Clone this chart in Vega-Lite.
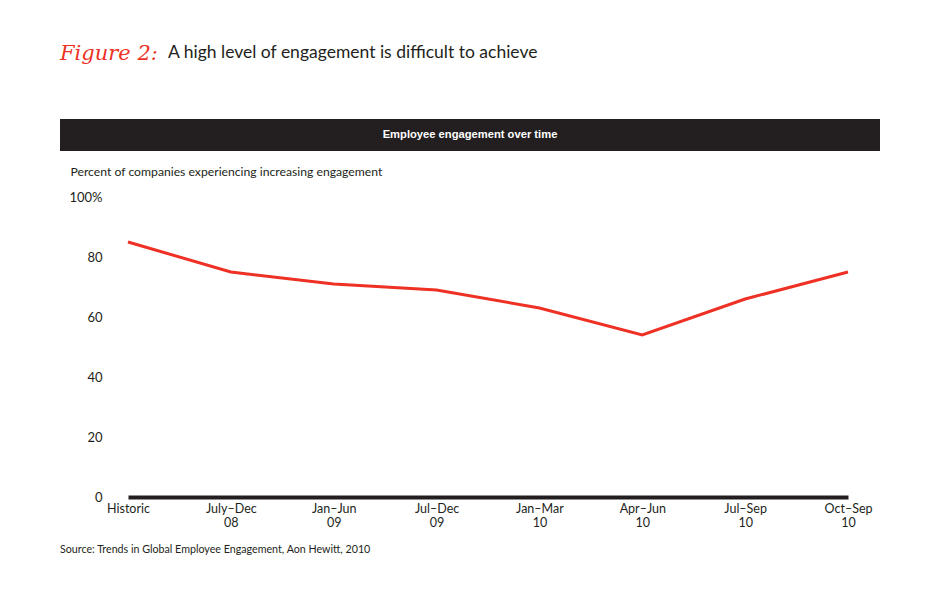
{
  "$schema": "https://vega.github.io/schema/vega-lite/v6.json",
  "width": 720,
  "height": 300,
  "autosize": {"type": "none"},
  "padding": {"left": 128, "top": 197, "right": 102, "bottom": 94},
  "background": "white",
  "config": {"view": {"stroke": null}, "font": "Lato"},
  "layer": [
    {
      "data": {"values": [{}]},
      "mark": {"type": "rect", "color": "#231f20"},
      "encoding": {"x": {"value": -68}, "x2": {"value": 752}, "y": {"value": -78}, "y2": {"value": -46}}
    },
    {
      "data": {"values": [{}]},
      "mark": {"type": "text", "text": "Employee engagement over time", "color": "white", "font": "Liberation Sans", "fontWeight": "bold", "fontSize": 11.2, "align": "center", "baseline": "middle"},
      "encoding": {"x": {"value": 342}, "y": {"value": -62}}
    },
    {
      "data": {"values": [{}]},
      "mark": {"type": "text", "text": "Figure 2:", "color": "#ee3124", "font": "DejaVu Serif", "fontStyle": "italic", "fontSize": 21, "align": "left", "baseline": "middle"},
      "encoding": {"x": {"value": -68}, "y": {"value": -143}}
    },
    {
      "data": {"values": [{}]},
      "mark": {"type": "text", "text": "A high level of engagement is difficult to achieve", "color": "#231f20", "font": "Lato", "fontSize": 17.5, "align": "left", "baseline": "middle"},
      "encoding": {"x": {"value": 40}, "y": {"value": -144}}
    },
    {
      "data": {"values": [{}]},
      "mark": {"type": "text", "text": "Source: Trends in Global Employee Engagement, Aon Hewitt, 2010", "color": "#231f20", "font": "Lato", "fontSize": 10.7, "align": "left", "baseline": "middle"},
      "encoding": {"x": {"value": -68}, "y": {"value": 353}}
    },
    {
      "data": {
        "values": [
          {"period": "Historic", "pct": 85},
          {"period": "July–Dec 08", "pct": 75},
          {"period": "Jan–Jun 09", "pct": 71},
          {"period": "Jul–Dec 09", "pct": 69},
          {"period": "Jan–Mar 10", "pct": 63},
          {"period": "Apr–Jun 10", "pct": 54},
          {"period": "Jul–Sep 10", "pct": 66},
          {"period": "Oct–Sep 10", "pct": 75}
        ]
      },
      "mark": {"type": "line", "color": "#ee3124", "strokeWidth": 3},
      "encoding": {
        "x": {
          "field": "period",
          "type": "ordinal",
          "sort": null,
          "scale": {"type": "point", "padding": 0},
          "axis": {
            "title": null,
            "labelAngle": 0,
            "labelExpr": "split(datum.label, ' ')",
            "labelFont": "Lato",
            "labelFontSize": 12.5,
            "labelColor": "#231f20",
            "labelLineHeight": 14,
            "labelPadding": 5,
            "ticks": false,
            "domainColor": "#231f20",
            "domainWidth": 4,
            "grid": false
          }
        },
        "y": {
          "field": "pct",
          "type": "quantitative",
          "scale": {"domain": [0, 100]},
          "axis": {
            "values": [0, 20, 40, 60, 80, 100],
            "labelExpr": "datum.value == 100 ? '100%' : datum.label",
            "labelFont": "Lato",
            "labelFontSize": 13,
            "labelColor": "#231f20",
            "labelPadding": 26,
            "ticks": false,
            "domain": false,
            "grid": false,
            "title": "Percent of companies experiencing increasing engagement",
            "titleAngle": 0,
            "titleAlign": "left",
            "titleBaseline": "middle",
            "titleX": -58,
            "titleY": -26,
            "titleFont": "Lato",
            "titleFontSize": 12.2,
            "titleFontWeight": "normal",
            "titleColor": "#231f20"
          }
        }
      }
    }
  ]
}
